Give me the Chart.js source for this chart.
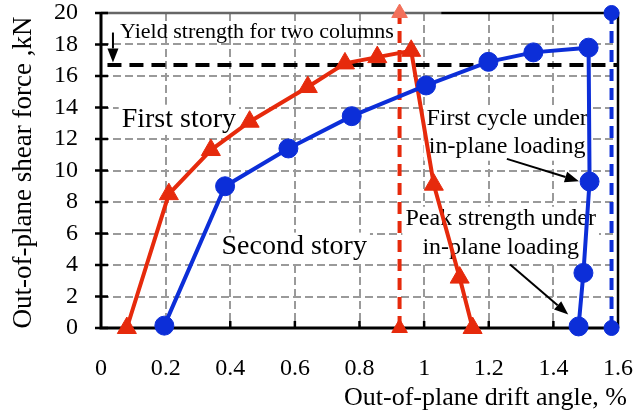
<!DOCTYPE html>
<html lang="en">
<head>
  <meta charset="UTF-8" />
  <title>Out-of-plane shear force vs drift angle</title>
  <script src="https://cdn.jsdelivr.net/npm/chart.js@4"></script>
  <style>
    html, body { margin: 0; padding: 0; background: #fff; }
    canvas { display: block; }
  </style>
</head>
<body>
<canvas id="driftChart" width="644" height="415"></canvas>

<script>
  // values (drift in %, force in kN)
  const firstStoryDrift = [0.08, 0.21, 0.34, 0.46, 0.64, 0.755, 0.855, 0.96, 1.03, 1.11, 1.15];
  const firstStoryForce = [0, 8.5, 11.3, 13.1, 15.3, 16.8, 17.2, 17.6, 9.1, 3.2, 0];
  const secondStoryDrift = [0.196, 0.384, 0.58, 0.776, 1.006, 1.199, 1.338, 1.509, 1.512, 1.493, 1.478];
  const secondStoryForce = [0.15, 9.0, 11.4, 13.45, 15.4, 16.9, 17.5, 17.8, 9.3, 3.5, 0.1];

  const yieldDrift = [0.02, 1.6];
  const yieldForce = 16.7;
  const firstLimitDrift = 0.924;
  const secondLimitDrift = 1.58;
  const limitForce = [0, 20];

  const xTicks = [0, 0.2, 0.4, 0.6, 0.8, 1, 1.2, 1.4, 1.6];
  const yTicks = [0, 2, 4, 6, 8, 10, 12, 14, 16, 18, 20];

  const RED = '#e62a0c';
  const RED_LIGHT = '#f2705a';
  const BLUE = '#0c2ed8';
  const FONT = "'Liberation Serif', 'Times New Roman', serif";

  const toPoints = (xs, ys) => xs.map((x, i) => ({ x, y: ys[i] }));

  function drawArrow(ctx, x1, y1, x2, y2) {
    const ang = Math.atan2(y2 - y1, x2 - x1);
    const head = 14, half = 5.5;
    const bx = x2 - head * Math.cos(ang), by = y2 - head * Math.sin(ang);
    ctx.beginPath();
    ctx.moveTo(x1, y1);
    ctx.lineTo(bx, by);
    ctx.stroke();
    ctx.beginPath();
    ctx.moveTo(x2, y2);
    ctx.lineTo(bx + half * Math.sin(ang), by - half * Math.cos(ang));
    ctx.lineTo(bx - half * Math.sin(ang), by + half * Math.cos(ang));
    ctx.closePath();
    ctx.fill();
  }

  // text with a white box behind it (hides the grid)
  function boxedText(ctx, lines, cx, baselines, size) {
    ctx.font = size + 'px ' + FONT;
    const w = Math.max(...lines.map(l => ctx.measureText(l).width));
    const top = baselines[0] - size * 0.78;
    const bottom = baselines[baselines.length - 1] + size * 0.3;
    ctx.fillStyle = '#fff';
    ctx.fillRect(cx - w / 2 - 3, top, w + 6, bottom - top);
    ctx.fillStyle = '#000';
    ctx.textAlign = 'center';
    ctx.textBaseline = 'alphabetic';
    lines.forEach((l, i) => ctx.fillText(l, cx, baselines[i]));
  }

  const decorations = {
    id: 'decorations',
    beforeDatasetsDraw(chart) {
      const { ctx, chartArea: a, scales: { x, y } } = chart;
      ctx.save();

      // frame
      ctx.lineWidth = 2.5;
      ctx.strokeStyle = '#666';
      ctx.beginPath(); ctx.moveTo(a.left, a.top); ctx.lineTo(x.getPixelForValue(1.053), a.top); ctx.stroke();
      ctx.strokeStyle = '#000';
      ctx.beginPath(); ctx.moveTo(x.getPixelForValue(1.053), a.top); ctx.lineTo(a.right, a.top); ctx.lineTo(a.right, a.bottom); ctx.stroke();
      ctx.lineWidth = 3;
      ctx.beginPath(); ctx.moveTo(a.left, a.top); ctx.lineTo(a.left, a.bottom); ctx.lineTo(a.right, a.bottom); ctx.stroke();

      // tick marks
      ctx.lineWidth = 2.5;
      yTicks.forEach(v => {
        const py = y.getPixelForValue(v);
        ctx.beginPath(); ctx.moveTo(a.left - 6, py); ctx.lineTo(a.left + 7, py); ctx.stroke();
      });
      xTicks.slice(1, -1).forEach(v => {
        const px = x.getPixelForValue(v);
        ctx.beginPath(); ctx.moveTo(px, a.bottom); ctx.lineTo(px, a.bottom - 7); ctx.stroke();
      });

      // story labels and notes
      boxedText(ctx, ['First story'], x.getPixelForValue(0.241), [y.getPixelForValue(12.79)], 28);
      boxedText(ctx, ['Second story'], x.getPixelForValue(0.598), [y.getPixelForValue(4.67)], 28);
      boxedText(ctx, ['First cycle under', 'in-plane loading'], x.getPixelForValue(1.257),
        [y.getPixelForValue(12.92), y.getPixelForValue(11.08)], 24);
      boxedText(ctx, ['Peak strength under', 'in-plane loading'], x.getPixelForValue(1.237),
        [y.getPixelForValue(6.51), y.getPixelForValue(4.67)], 24);
      ctx.restore();
    },
    afterDraw(chart) {
      const { ctx, chartArea: a, scales: { x, y } } = chart;
      ctx.save();
      ctx.fillStyle = '#000';
      ctx.strokeStyle = '#000';

      ctx.font = '22px ' + FONT;
      ctx.textAlign = 'left';
      ctx.textBaseline = 'alphabetic';
      ctx.fillText('Yield strength for two columns', x.getPixelForValue(0.059), y.getPixelForValue(18.44));

      ctx.lineWidth = 2;
      drawArrow(ctx, x.getPixelForValue(0.037), y.getPixelForValue(18.76), x.getPixelForValue(0.037), y.getPixelForValue(16.86));
      drawArrow(ctx, x.getPixelForValue(1.256), y.getPixelForValue(10.74), x.getPixelForValue(1.479), y.getPixelForValue(9.32));
      drawArrow(ctx, x.getPixelForValue(1.266), y.getPixelForValue(4.03), x.getPixelForValue(1.446), y.getPixelForValue(0.86));

      // axis titles
      ctx.font = '26px ' + FONT;
      ctx.textAlign = 'right';
      ctx.fillText('Out-of-plane drift angle, %', 627, 405);

      ctx.translate(24, (a.top + a.bottom) / 2 + 2);
      ctx.rotate(-Math.PI / 2);
      ctx.font = '27px ' + FONT;
      ctx.textAlign = 'center';
      ctx.textBaseline = 'middle';
      ctx.fillText('Out-of-plane shear force ,kN', 0, 0);
      ctx.restore();
    }
  };

  const ctx = document.getElementById('driftChart').getContext('2d');
  const driftChart = new Chart(ctx, {
    type: 'line',
    data: {
      datasets: [
        {
          label: 'Yield strength',
          data: yieldDrift.map(d => ({ x: d, y: yieldForce })),
          borderColor: '#000',
          borderWidth: 4,
          borderDash: [14, 8],
          pointRadius: 0,
          order: 5
        },
        {
          label: 'First story limit',
          data: limitForce.map(f => ({ x: firstLimitDrift, y: f })),
          borderColor: RED,
          borderWidth: 4,
          borderDash: [12, 7],
          pointStyle: 'triangle',
          pointRadius: 9,
          pointBorderWidth: 1,
          pointBackgroundColor: [RED, RED_LIGHT],
          pointBorderColor: [RED, RED_LIGHT],
          clip: false,
          order: 4
        },
        {
          label: 'Second story limit',
          data: limitForce.map(f => ({ x: secondLimitDrift, y: f })),
          borderColor: BLUE,
          borderWidth: 4,
          borderDash: [12, 7],
          pointStyle: 'circle',
          pointRadius: 7.5,
          pointBorderWidth: 1,
          pointBackgroundColor: BLUE,
          pointBorderColor: BLUE,
          clip: false,
          order: 3
        },
        {
          label: 'First story',
          data: toPoints(firstStoryDrift, firstStoryForce),
          borderColor: RED,
          borderWidth: 4,
          pointStyle: 'triangle',
          pointRadius: 11,
          pointBorderWidth: 1,
          pointBackgroundColor: RED,
          pointBorderColor: RED,
          clip: false,
          order: 2
        },
        {
          label: 'Second story',
          data: toPoints(secondStoryDrift, secondStoryForce),
          borderColor: BLUE,
          borderWidth: 4,
          pointStyle: 'circle',
          pointRadius: 9.5,
          pointBorderWidth: 1,
          pointBackgroundColor: BLUE,
          pointBorderColor: BLUE,
          clip: false,
          order: 1
        }
      ]
    },
    options: {
      responsive: false,
      animation: false,
      layout: { padding: { top: 13, right: 26, left: 0, bottom: 0 } },
      plugins: {
        legend: { display: false },
        tooltip: { enabled: false }
      },
      scales: {
        x: {
          type: 'linear',
          min: 0,
          max: 1.6,
          afterBuildTicks: s => { s.ticks = xTicks.map(v => ({ value: v })); },
          afterFit: s => { s.height = 87; s.paddingLeft = 0; s.paddingRight = 0; },
          grid: { color: '#9a9a9a', lineWidth: 2, drawTicks: false },
          border: { display: false, dash: [8, 4] },
          ticks: {
            color: '#000',
            padding: 26,
            maxRotation: 0,
            autoSkip: false,
            font: { family: FONT, size: 24 },
            callback: v => String(v)
          }
        },
        y: {
          min: 0,
          max: 20,
          afterBuildTicks: s => { s.ticks = yTicks.map(v => ({ value: v })); },
          afterFit: s => { s.width = 101; s.paddingTop = 0; s.paddingBottom = 0; },
          grid: { color: '#9a9a9a', lineWidth: 2, drawTicks: false },
          border: { display: false, dash: [8, 4] },
          ticks: {
            color: '#000',
            padding: 23,
            autoSkip: false,
            font: { family: FONT, size: 24 },
            callback: v => String(v)
          }
        }
      }
    },
    plugins: [decorations]
  });
</script>
</body>
</html>
